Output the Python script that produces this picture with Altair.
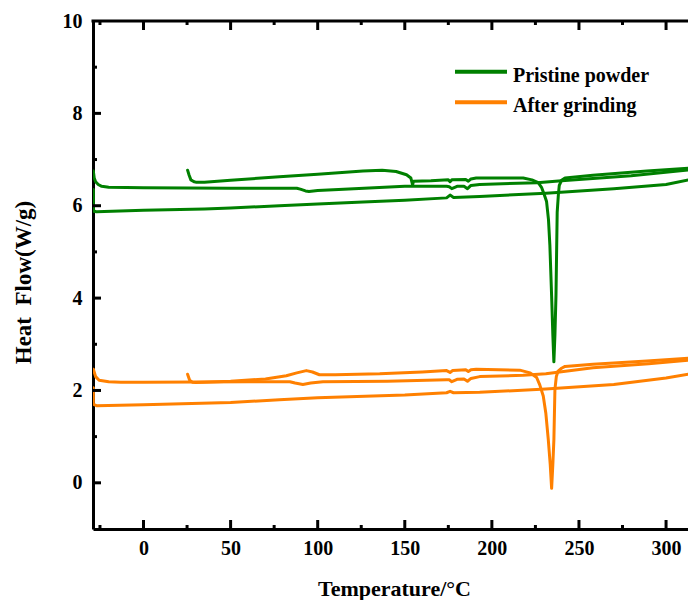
import altair as alt
import pandas as pd

# ---------------- data ----------------
series_names = ["Pristine powder", "After grinding"]
series_colors = ["#008000", "#FF8000"]

# Pristine powder: first heating, cooling, second heating
g1_T = [25.3, 26.2, 27.2, 29, 30, 35, 50, 78, 100, 126, 137, 145, 151, 153.5, 154.5, 155,
        165, 175, 176, 177, 185, 186.5, 188, 191, 205, 218, 223, 226.6, 228.5, 230, 231.4,
        232.5, 233.3, 234.3, 235, 235.6, 236.2, 236.8, 237.5, 238.2, 238.7, 240, 242, 258, 289, 317]
g1_H = [6.77, 6.66, 6.56, 6.52, 6.51, 6.51, 6.55, 6.63, 6.68, 6.75, 6.77, 6.74, 6.67, 6.6, 6.45, 6.53,
        6.54, 6.56, 6.52, 6.56, 6.57, 6.53, 6.58, 6.6, 6.6, 6.6, 6.56, 6.5, 6.4, 6.25, 6.09,
        5.7, 5.14, 4.05, 3.2, 2.62, 3.2, 4.05, 5.86, 6.25, 6.44, 6.55, 6.6, 6.66, 6.75, 6.82]
g2_T = [317, 280, 240, 226, 193, 188, 186, 184, 180, 177, 175.5, 174, 150, 112, 100, 95, 93, 90,
        88, 50, 0, -20, -24, -26, -27.5, -28.3, -28.8]
g2_H = [6.79, 6.65, 6.54, 6.5, 6.46, 6.44, 6.37, 6.42, 6.42, 6.37, 6.41, 6.42, 6.42, 6.35, 6.33, 6.31, 6.32, 6.36,
        6.38, 6.38, 6.39, 6.4, 6.42, 6.46, 6.52, 6.6, 6.75]
g3_T = [-28.8, -28.8, -28.5, -27, 0, 35, 50, 78, 100, 126, 150, 174, 176, 178, 193, 231, 270, 300, 317]
g3_H = [6.35, 5.95, 5.88, 5.87, 5.9, 5.93, 5.95, 6.0, 6.04, 6.08, 6.12, 6.17, 6.23, 6.18, 6.2, 6.27, 6.37, 6.46, 6.59]

# After grinding: first heating, cooling, second heating
o1_T = [25.3, 26.5, 28, 30, 35, 50, 70, 82, 88, 93.5, 97, 101, 110, 135.6, 160, 174, 176, 177.5,
        185, 186.5, 188, 191, 216, 222, 225.7, 227.5, 229.5, 231, 232.4, 233.5, 234.3, 235, 235.6,
        236.2, 237, 238, 240, 242, 258, 289, 317]
o1_H = [2.35, 2.22, 2.18, 2.17, 2.18, 2.2, 2.25, 2.32, 2.38, 2.43, 2.4, 2.34, 2.34, 2.36, 2.4, 2.43, 2.39, 2.43,
        2.45, 2.41, 2.45, 2.46, 2.44, 2.38, 2.28, 2.12, 1.88, 1.5, 0.93, 0.4, -0.12, 0.4, 0.93,
        2.02, 2.3, 2.42, 2.48, 2.52, 2.57, 2.64, 2.71]
o2_T = [317, 290, 258, 231, 218, 193, 188, 186, 184, 180, 177, 175.5, 174, 140, 103, 96, 91.5, 87,
        84, 60, 0, -13, -20, -25.5, -27.5, -28.8]
o2_H = [2.67, 2.58, 2.49, 2.36, 2.33, 2.3, 2.26, 2.2, 2.25, 2.24, 2.19, 2.23, 2.23, 2.2, 2.19, 2.16, 2.13, 2.16,
        2.19, 2.19, 2.18, 2.18, 2.19, 2.22, 2.3, 2.46]
o3_T = [-28.8, -28.8, -27, 0, 50, 78, 100, 150, 174, 176, 178, 193, 231, 270, 300, 317]
o3_H = [2.06, 1.7, 1.67, 1.69, 1.74, 1.8, 1.84, 1.9, 1.95, 1.98, 1.95, 1.96, 2.03, 2.13, 2.27, 2.38]

x_major = [0, 50, 100, 150, 200, 250, 300]
x_minor = [-25, 25, 75, 125, 175, 225, 275]
y_major = [0, 2, 4, 6, 8, 10]
y_minor = [1, 3, 5, 7, 9]

# ---------------- build table ----------------
rows = []
segments = [
    (series_names[0], "g1", g1_T, g1_H),
    (series_names[0], "g2", g2_T, g2_H),
    (series_names[0], "g3", g3_T, g3_H),
    (series_names[1], "o1", o1_T, o1_H),
    (series_names[1], "o2", o2_T, o2_H),
    (series_names[1], "o3", o3_T, o3_H),
]
for name, seg, ts, hs in segments:
    for i, (t, h) in enumerate(zip(ts, hs)):
        rows.append({"series": name, "seg": seg, "i": i, "T": t, "H": h})
df = pd.DataFrame(rows)

W, H = 595, 508
FONT = "Liberation Serif"

x_scale = alt.Scale(domain=[-29, 312.6], nice=False, zero=False)
y_scale = alt.Scale(domain=[-1, 10], nice=False, zero=False)

x_axis = alt.Axis(values=x_major, ticks=False, grid=False, domain=True, domainColor="black",
                  domainWidth=3, labelFont=FONT, labelFontSize=20, labelFontWeight="bold",
                  labelColor="black", labelPadding=9, labelFlush=False, labelOverlap=False,
                  title="Temperature/°C", titleFont=FONT, titleFontSize=22, titleFontWeight="bold",
                  titleColor="black", titleX=301, titleY=66, titleAlign="center",
                  titleBaseline="alphabetic")
y_axis = alt.Axis(values=y_major, ticks=False, grid=False, domain=True, domainColor="black",
                  domainWidth=3, labelFont=FONT, labelFontSize=20, labelFontWeight="bold",
                  labelColor="black", labelPadding=11, labelFlush=False, labelOverlap=False,
                  title="Heat\u00a0 Flow(W/g)", titleFont=FONT, titleFontSize=23, titleFontWeight="bold",
                  titleColor="black", titleX=-63, titleY=261, titleAngle=270, titleAlign="center",
                  titleBaseline="alphabetic")

X = lambda f: alt.X(f, scale=x_scale, axis=x_axis)
Y = lambda f: alt.Y(f, scale=y_scale, axis=y_axis)

lines = alt.Chart(df).mark_line(strokeWidth=3, clip=True, strokeJoin="round", strokeCap="round").encode(
    x=X("T:Q"),
    y=Y("H:Q"),
    color=alt.Color("series:N", scale=alt.Scale(domain=series_names, range=series_colors), legend=None),
    detail="seg:N",
    order="i:Q",
)

xmaj = pd.DataFrame({"T": x_major})
xmin = pd.DataFrame({"T": x_minor})
ymaj = pd.DataFrame({"H": y_major[:-1]})
ymin = pd.DataFrame({"H": y_minor})

tick_layers = [
    alt.Chart(xmaj).mark_rule(strokeWidth=3, color="black").encode(x=X("T:Q"), y=alt.value(H), y2=alt.value(H - 9)),
    alt.Chart(xmin).mark_rule(strokeWidth=3, color="black").encode(x=X("T:Q"), y=alt.value(H), y2=alt.value(H - 4)),
    alt.Chart(xmaj).mark_rule(strokeWidth=3, color="black").encode(x=X("T:Q"), y=alt.value(0), y2=alt.value(9)),
    alt.Chart(xmin).mark_rule(strokeWidth=3, color="black").encode(x=X("T:Q"), y=alt.value(0), y2=alt.value(4)),
    alt.Chart(ymaj).mark_rule(strokeWidth=3, color="black").encode(y=Y("H:Q"), x=alt.value(0), x2=alt.value(8)),
    alt.Chart(ymin).mark_rule(strokeWidth=3, color="black").encode(y=Y("H:Q"), x=alt.value(0), x2=alt.value(4)),
]

top_line = alt.Chart(pd.DataFrame({"a": [0]})).mark_rule(strokeWidth=3, color="black").encode(
    x=alt.value(-1.5), x2=alt.value(W), y=alt.value(0)
)

# manual legend
legend_layers = []
leg_y = [50.7, 81.3]
for k, (name, col) in enumerate(zip(series_names, series_colors)):
    d = pd.DataFrame({"series": [name]})
    legend_layers.append(
        alt.Chart(d).mark_rule(strokeWidth=4, color=col).encode(
            x=alt.value(362), x2=alt.value(414), y=alt.value(leg_y[k])
        )
    )
    legend_layers.append(
        alt.Chart(d).mark_text(font=FONT, fontSize=20, fontWeight="bold", color="black",
                               align="left", baseline="alphabetic").encode(
            x=alt.value(420), y=alt.value(leg_y[k] + 10), text="series:N"
        )
    )

chart = alt.layer(lines, *tick_layers, top_line, *legend_layers).properties(
    width=W, height=H,
    padding={"left": 85, "top": 13, "right": 0, "bottom": 71},
    autosize=alt.AutoSizeParams(type="none"),
).configure_view(stroke=None).configure(background="white")

chart.save("out.html", embed_options={"renderer": "svg", "actions": False})
